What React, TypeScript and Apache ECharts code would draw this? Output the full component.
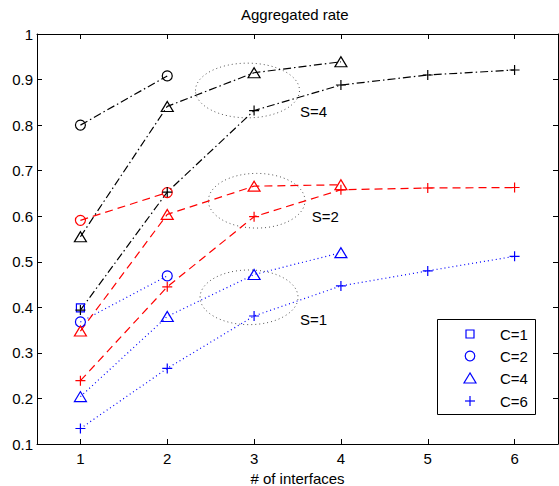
import React, { useEffect, useRef } from 'react';
import * as echarts from 'echarts';

// x positions (number of interfaces)
const interfaces = [1, 2, 3, 4, 5, 6];

// S=4 (black, dash-dot)
const s4c2 = [0.800, 0.908];
const s4c4 = [0.555, 0.841, 0.915, 0.939];
const s4c6 = [0.394, 0.653, 0.832, 0.888, 0.910, 0.921];
// S=2 (red, dashed)
const s2c2 = [0.591, 0.652];
const s2c4 = [0.348, 0.604, 0.666, 0.669];
const s2c6 = [0.239, 0.445, 0.599, 0.658, 0.662, 0.663];
// S=1 (blue, dotted)
const s1c1 = [0.399];
const s1c2 = [0.368, 0.469];
const s1c4 = [0.204, 0.380, 0.472, 0.520];
const s1c6 = [0.134, 0.266, 0.381, 0.447, 0.480, 0.512];

// annotation ellipses (data units)
const groupLabels = ['S=4', 'S=2', 'S=1'];
const groupCx = [2.924, 3.030, 2.942];
const groupCy = [0.876, 0.634, 0.422];
const groupRx = [0.599, 0.556, 0.564];
const groupRy = [0.060, 0.060, 0.060];
const labelX = [3.529, 3.664, 3.529];
const labelY = [0.830, 0.599, 0.373];

const legendLabels = ['C=1', 'C=2', 'C=4', 'C=6'];

const FONT = '"Liberation Sans", Arial, Helvetica, sans-serif';
const PLUS = 'path://M5,0L5,10M0,5L10,5';
const BLACK = '#000000';
const RED = '#ff0000';
const BLUE = '#0000ff';

const DASHDOT = [8, 3, 1.5, 3];
const DASHED = [8, 5];
const DOTTED = [1, 3];

function mk(name: string, vals: number[], color: string, dash: number[], symbol: string, size: any) {
  return {
    name,
    type: 'line',
    silent: true,
    data: vals.map((v, i) => [interfaces[i], v]),
    symbol,
    symbolSize: size,
    showSymbol: true,
    lineStyle: { color, width: 1.2, type: dash },
    itemStyle: { color: 'transparent', borderColor: color, borderWidth: 1.2 },
    emphasis: { disabled: true },
  };
}

export default function App() {
  const ref = useRef<HTMLDivElement>(null);
  useEffect(() => {
    const chart = echarts.init(ref.current!, undefined, { renderer: 'svg' });

    const rows = [334, 356, 378.5, 401];
    const sx = 470;
    const legendSymbols: any[] = [
      { type: 'rect', shape: { x: sx - 4, y: rows[0] - 4, width: 8, height: 8 }, style: { fill: 'none', stroke: BLUE, lineWidth: 1.2 }, z: 101 },
      { type: 'circle', shape: { cx: sx, cy: rows[1], r: 4.8 }, style: { fill: 'none', stroke: BLUE, lineWidth: 1.2 }, z: 101 },
      { type: 'polygon', shape: { points: [[sx, rows[2] - 5.5], [sx - 6, rows[2] + 4.5], [sx + 6, rows[2] + 4.5]] }, style: { fill: 'none', stroke: BLUE, lineWidth: 1.2 }, z: 101 },
      { type: 'line', shape: { x1: sx - 5, y1: rows[3], x2: sx + 5, y2: rows[3] }, style: { stroke: BLUE, lineWidth: 1.2 }, z: 101 },
      { type: 'line', shape: { x1: sx, y1: rows[3] - 5, x2: sx, y2: rows[3] + 5 }, style: { stroke: BLUE, lineWidth: 1.2 }, z: 101 },
    ];
    const legendTexts = legendLabels.map((t, i) => ({
      type: 'text',
      x: 500,
      y: rows[i],
      z: 101,
      style: { text: t, fill: '#000', fontSize: 15, fontFamily: FONT, textVerticalAlign: 'middle', verticalAlign: 'middle' },
    }));

    const axisCommon = {
      axisLine: { show: true, onZero: false, lineStyle: { color: '#000', width: 1 } },
      axisTick: { show: true, inside: true, length: 5, lineStyle: { color: '#000', width: 1 } },
      splitLine: { show: false },
    };

    chart.setOption({
      animation: false,
      backgroundColor: '#ffffff',
      title: {
        text: 'Aggregated rate',
        left: 241,
        top: 7,
        padding: 0,
        textStyle: { fontSize: 15, fontWeight: 'normal', color: '#000', fontFamily: FONT },
      },
      grid: { left: 37, right: 1, top: 34, bottom: 42, containLabel: false, outerBoundsMode: 'none' },
      xAxis: [
        {
          type: 'value', position: 'bottom', min: 0.5, max: 6.5, splitNumber: 6,
          ...axisCommon,
          axisLabel: {
            color: '#000', fontSize: 15, fontFamily: FONT, margin: 7,
            showMinLabel: false, showMaxLabel: false,
            formatter: (v: number) => (Number.isInteger(v) ? String(v) : ''),
          },
          name: '# of interfaces', nameLocation: 'middle', nameGap: 27,
          nameTextStyle: { color: '#000', fontSize: 15, fontFamily: FONT },
        },
        {
          type: 'value', position: 'top', min: 0.5, max: 6.5, splitNumber: 6,
          ...axisCommon,
          axisLabel: { show: false },
        },
      ],
      yAxis: [
        {
          type: 'value', position: 'left', min: 0.1, max: 1, interval: 0.1,
          ...axisCommon,
          axisLabel: {
            color: '#000', fontSize: 15, fontFamily: FONT, margin: 4,
            formatter: (v: number) => String(Math.round(v * 10) / 10),
          },
        },
        {
          type: 'value', position: 'right', min: 0.1, max: 1, interval: 0.1,
          ...axisCommon,
          axisLabel: { show: false },
        },
      ],
      graphic: {
        elements: [
          { type: 'rect', shape: { x: 437.5, y: 319.5, width: 98, height: 95 }, style: { fill: '#fff', stroke: '#000', lineWidth: 1 }, z: 100 },
          ...legendSymbols,
          ...legendTexts,
        ],
      },
      series: [
        {
          type: 'custom',
          silent: true,
          clip: false,
          data: groupLabels.map((_, i) => [groupCx[i], groupCy[i], groupRx[i], groupRy[i], labelX[i], labelY[i]]),
          renderItem: (params: any, api: any) => {
            const i = params.dataIndex;
            const c = api.coord([groupCx[i], groupCy[i]]);
            const s = api.size([groupRx[i], groupRy[i]]);
            const lp = api.coord([labelX[i], labelY[i]]);
            return {
              type: 'group',
              children: [
                {
                  type: 'ellipse',
                  shape: { cx: c[0], cy: c[1], rx: s[0], ry: s[1] },
                  style: { fill: 'none', stroke: '#555555', lineWidth: 1, lineDash: [1, 3] },
                },
                {
                  type: 'text',
                  x: lp[0],
                  y: lp[1],
                  style: {
                    text: groupLabels[i], fill: '#000', fontSize: 15, fontFamily: FONT,
                    textAlign: 'left', align: 'left', textVerticalAlign: 'middle', verticalAlign: 'middle',
                  },
                },
              ],
            };
          },
        },
        mk('S1 C1', s1c1, BLUE, DOTTED, 'rect', 8),
        mk('S1 C2', s1c2, BLUE, DOTTED, 'circle', 10),
        mk('S1 C4', s1c4, BLUE, DOTTED, 'triangle', [12, 10]),
        mk('S1 C6', s1c6, BLUE, DOTTED, PLUS, 10),
        mk('S2 C2', s2c2, RED, DASHED, 'circle', 10),
        mk('S2 C4', s2c4, RED, DASHED, 'triangle', [12, 10]),
        mk('S2 C6', s2c6, RED, DASHED, PLUS, 10),
        mk('S4 C2', s4c2, BLACK, DASHDOT, 'circle', 10),
        mk('S4 C4', s4c4, BLACK, DASHDOT, 'triangle', [12, 10]),
        mk('S4 C6', s4c6, BLACK, DASHDOT, PLUS, 10),
      ],
    });
    return () => chart.dispose();
  }, []);

  return (
    <div
      ref={ref}
      style={{ position: 'fixed', left: 0, top: 0, width: 559, height: 486, background: '#fff' }}
    />
  );
}
